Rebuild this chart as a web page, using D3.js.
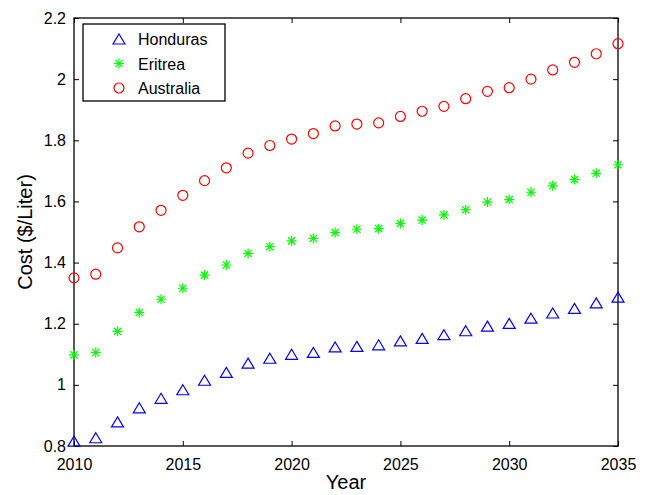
<!DOCTYPE html>
<html><head><meta charset="utf-8">
<script src="https://cdn.jsdelivr.net/npm/d3@7"></script>
<style>body{margin:0;background:#fff}svg{display:block}text{font-family:"Liberation Sans",Arial,sans-serif;fill:#000}</style>
</head><body>
<svg id="c" width="651" height="495"></svg>
<script>
const years = d3.range(2010, 2036);
const honduras = [0.816,0.827,0.879,0.925,0.956,0.984,1.015,1.041,1.071,1.087,1.100,1.106,1.124,1.126,1.131,1.144,1.152,1.164,1.177,1.192,1.201,1.218,1.235,1.250,1.268,1.287];
const eritrea = [1.098,1.106,1.175,1.237,1.280,1.316,1.359,1.392,1.430,1.452,1.471,1.479,1.498,1.509,1.511,1.528,1.539,1.556,1.573,1.598,1.606,1.630,1.651,1.672,1.692,1.720];
const australia = [1.350,1.362,1.448,1.517,1.571,1.620,1.668,1.710,1.758,1.783,1.804,1.822,1.847,1.853,1.857,1.878,1.895,1.911,1.936,1.960,1.972,2.000,2.030,2.055,2.083,2.116];
const xTicks = [2010,2015,2020,2025,2030,2035];
const yTicks = [0.8,1,1.2,1.4,1.6,1.8,2,2.2];
const seriesNames = ["Honduras","Eritrea","Australia"];

const L=74,R=618,T=18,B=446;
const svg=d3.select("#c");
const x=d3.scaleLinear().domain([2010,2035]).range([L,R]);
const y=d3.scaleLinear().domain([0.8,2.2]).range([B,T]);

function triangle(g,cx,cy,col){
  g.append("path").attr("d",`M${cx},${cy-5}L${cx+6},${cy+5}L${cx-6},${cy+5}Z`)
   .attr("fill","none").attr("stroke",col).attr("stroke-width",1.2);
}
function star(g,cx,cy,col){
  const r=5,d=3.6;
  g.append("path").attr("d",`M${cx-r},${cy}L${cx+r},${cy}M${cx},${cy-r}L${cx},${cy+r}M${cx-d},${cy-d}L${cx+d},${cy+d}M${cx-d},${cy+d}L${cx+d},${cy-d}`)
   .attr("fill","none").attr("stroke",col).attr("stroke-width",1.2);
}
function circle(g,cx,cy,col){
  g.append("circle").attr("cx",cx).attr("cy",cy).attr("r",5)
   .attr("fill","none").attr("stroke",col).attr("stroke-width",1.2);
}
const series=[
  {name:seriesNames[0],vals:honduras,col:"#0000ff",fn:triangle},
  {name:seriesNames[1],vals:eritrea,col:"#00ff00",fn:star},
  {name:seriesNames[2],vals:australia,col:"#ff0000",fn:circle}
];

const ax=svg.append("g");
ax.append("g").attr("transform",`translate(0,${B})`).call(d3.axisBottom(x).tickValues(xTicks).tickFormat(d3.format("d")).tickSizeInner(-5).tickSizeOuter(0).tickPadding(13));
ax.append("g").attr("transform",`translate(0,${T})`).call(d3.axisTop(x).tickValues(xTicks).tickFormat("").tickSizeInner(-5).tickSizeOuter(0));
ax.append("g").attr("transform",`translate(${L},0)`).call(d3.axisLeft(y).tickValues(yTicks).tickFormat(d=>d3.format("")(+d.toFixed(1))).tickSizeInner(-5).tickSizeOuter(0).tickPadding(8));
ax.append("g").attr("transform",`translate(${R},0)`).call(d3.axisRight(y).tickValues(yTicks).tickFormat("").tickSizeInner(-5).tickSizeOuter(0));
ax.selectAll(".domain").remove();
ax.selectAll("line").attr("stroke","#000");
ax.selectAll("text").style("font-size","16px").style("font-family","Liberation Sans, Arial, sans-serif").attr("fill","#000");
svg.append("rect").attr("x",L).attr("y",T).attr("width",R-L).attr("height",B-T).attr("fill","none").attr("stroke","#000").attr("stroke-width",1.3);

const pts=svg.append("g");
series.forEach(s=>{ s.vals.forEach((v,i)=>s.fn(pts,x(years[i]),y(v),s.col)); });

svg.append("text").attr("x",(L+R)/2).attr("y",489).attr("text-anchor","middle").style("font-size","20px").text("Year");
svg.append("text").attr("transform",`translate(32,${(T+B)/2}) rotate(-90)`).attr("text-anchor","middle").style("font-size","20px").text("Cost ($/Liter)");

const lg=svg.append("g");
lg.append("rect").attr("x",83).attr("y",24).attr("width",142).attr("height",77).attr("fill","#fff").attr("stroke","#000").attr("stroke-width",1.3);
series.forEach((s,i)=>{
  const cy=39+i*24.5;
  s.fn(lg,119,cy,s.col);
  lg.append("text").attr("x",138).attr("y",cy+6).style("font-size","16px").text(s.name);
});
</script>
</body></html>
